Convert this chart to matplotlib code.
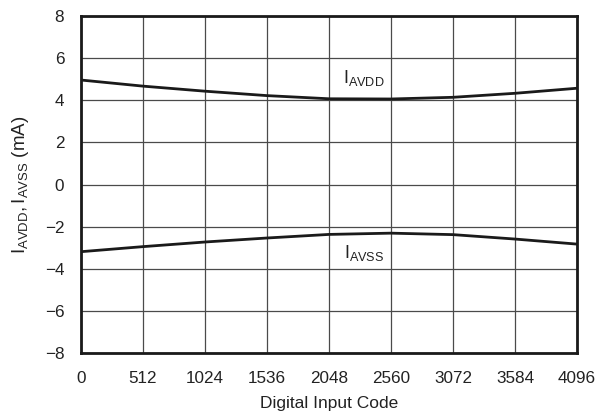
import matplotlib
matplotlib.use("Agg")
import matplotlib.pyplot as plt

plt.rcParams['font.family'] = ['Liberation Sans', 'DejaVu Sans']
plt.rcParams['mathtext.fontset'] = 'custom'
plt.rcParams['mathtext.rm'] = 'Liberation Sans'
plt.rcParams['mathtext.it'] = 'Liberation Sans'
plt.rcParams['axes.unicode_minus'] = True

codes = [0, 512, 1024, 1536, 2048, 2560, 3072, 3584, 4096]
i_avdd = [4.96, 4.67, 4.43, 4.22, 4.07, 4.06, 4.14, 4.33, 4.57]
i_avss = [-3.19, -2.95, -2.73, -2.54, -2.37, -2.31, -2.38, -2.59, -2.83]

x_ticks = [0, 512, 1024, 1536, 2048, 2560, 3072, 3584, 4096]
y_ticks = [-8, -6, -4, -2, 0, 2, 4, 6, 8]

TXT = '#222222'

fig = plt.figure(figsize=(5.99, 4.13), dpi=100)
ax = fig.add_axes([81/599, 1 - 353/413, 496/599, 337/413])

ax.plot(codes, i_avdd, color='#1a1a1a', lw=2.0, solid_capstyle='butt', zorder=3)
ax.plot(codes, i_avss, color='#1a1a1a', lw=2.0, solid_capstyle='butt', zorder=3)

ax.set_xlim(0, 4096)
ax.set_ylim(-8, 8)
ax.set_xticks(x_ticks)
ax.set_yticks(y_ticks)
ax.set_yticklabels([str(v).replace('-', '\u2212') for v in y_ticks])
ax.tick_params(length=0, labelsize=12.3, colors=TXT)
ax.tick_params(axis='y', pad=12)
ax.tick_params(axis='x', pad=13)
ax.grid(True, color='#4a4a4a', lw=0.9)
ax.set_axisbelow(True)
for s in ax.spines.values():
    s.set_linewidth(2.0)
    s.set_color('#1a1a1a')

ax.text(2160, 5.05, r'$\mathregular{I_{AVDD}}$', fontsize=13, va='center', ha='left', color=TXT)
ax.text(2175, -3.25, r'$\mathregular{I_{AVSS}}$', fontsize=13, va='center', ha='left', color=TXT)

ax.set_xlabel('Digital Input Code', fontsize=12.5, color=TXT, va='top')
ax.xaxis.set_label_coords(0.5, (353 - 396) / 337)
ax.set_ylabel(r'$\mathregular{I_{AVDD}, I_{AVSS}\ (mA)}$', fontsize=13.5, color=TXT, va='center')
ax.yaxis.set_label_coords((21 - 81) / 496, 0.5)

fig.savefig('out.png', dpi=100)
